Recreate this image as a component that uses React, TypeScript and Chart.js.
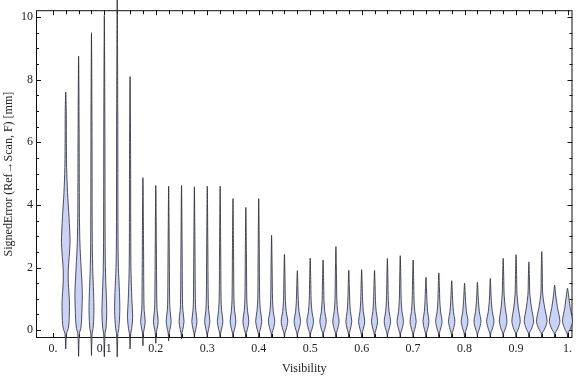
import React, { useEffect, useRef } from 'react';
import { Chart, registerables } from 'chart.js';
Chart.register(...registerables);

// Violin positions (Visibility)
const positions = [0.025, 0.05, 0.075, 0.1, 0.125, 0.15, 0.175, 0.2, 0.225, 0.25, 0.275, 0.3, 0.325, 0.35, 0.375, 0.4, 0.425, 0.45, 0.475, 0.5, 0.525, 0.55, 0.575, 0.6, 0.625, 0.65, 0.675, 0.7, 0.725, 0.75, 0.775, 0.8, 0.825, 0.85, 0.875, 0.9, 0.925, 0.95, 0.975, 1.0];
// Upper extent of each violin [mm]
const maxValues = [7.6, 8.75, 9.5, 10.05, 11.0, 8.1, 4.87, 4.62, 4.6, 4.62, 4.58, 4.6, 4.6, 4.2, 3.92, 4.2, 3.03, 2.42, 1.9, 2.3, 2.24, 2.67, 1.91, 1.93, 1.91, 2.29, 2.38, 2.24, 1.69, 1.83, 1.58, 1.5, 1.53, 1.65, 2.29, 2.41, 2.18, 2.51, 1.44, 1.34];
// Lower extent of each violin [mm]
const minValues = [-0.6, -0.84, -0.81, -0.85, -0.85, -0.6, -0.5, -0.42, -0.34, -0.27, -0.23, -0.22, -0.22, -0.22, -0.22, -0.22, -0.22, -0.22, -0.22, -0.22, -0.22, -0.22, -0.22, -0.22, -0.22, -0.22, -0.22, -0.22, -0.22, -0.22, -0.22, -0.22, -0.22, -0.22, -0.22, -0.22, -0.22, -0.22, -0.22, -0.22];
// Density bulb half-width (px) and bulb top (mm) for violins 7..40
const bulbWidths = [0, 0, 0, 0, 0, 0, 2.3, 2.4, 2.5, 2.5, 2.6, 2.6, 2.8, 2.9, 3.0, 3.1, 3.2, 3.3, 3.2, 3.3, 3.2, 3.2, 3.0, 3.1, 3.1, 3.2, 3.2, 3.1, 3.0, 3.2, 3.2, 3.4, 3.5, 3.7, 3.8, 4.2, 4.7, 5.3, 5.3, 5.0];
const bulbTops = [0, 0, 0, 0, 0, 0, 1.0, 1.0, 1.0, 1.0, 1.0, 1.0, 1.0, 1.0, 1.0, 1.0, 0.95, 0.95, 0.95, 0.95, 0.95, 0.95, 0.95, 0.95, 0.95, 0.95, 0.95, 0.95, 0.95, 0.95, 0.95, 0.95, 0.95, 0.95, 1.15, 1.15, 1.15, 1.15, 1.15, 1.15];
// Explicit density profiles for the first six violins: [value mm, half width px]
const violin1 = [[-0.1, 0.8], [0.05, 2.5], [0.3, 3.4], [0.9, 3.7], [1.5, 2.6], [1.9, 2.5], [2.8, 4.3], [3.6, 3.3], [4.4, 1.8], [5.2, 0.9], [6.2, 0.6]];
const violin2 = [[-0.1, 0.8], [0.05, 2.2], [0.35, 3.0], [1.2, 3.7], [2.0, 2.5], [2.8, 1.3], [3.8, 0.8]];
const violin3 = [[-0.1, 0.7], [0.05, 1.6], [0.5, 2.4], [1.0, 2.3], [1.8, 1.4], [2.8, 0.8]];
const violin4 = [[-0.1, 0.7], [0.05, 1.6], [0.5, 2.4], [1.0, 2.1], [1.8, 1.2], [2.8, 0.8]];
const violin5 = [[-0.1, 0.7], [0.05, 1.6], [0.6, 2.6], [1.2, 2.3], [2.0, 1.2], [3.0, 0.8]];
const violin6 = [[-0.1, 0.7], [0.05, 1.6], [0.4, 2.6], [1.0, 1.8], [1.8, 1.0], [2.8, 0.7]];
const customProfiles = [violin1, violin2, violin3, violin4, violin5, violin6];

const xTickValues = [0, 0.1, 0.2, 0.3, 0.4, 0.5, 0.6, 0.7, 0.8, 0.9, 1.0];
const xTickLabels = ['0.', '0.1', '0.2', '0.3', '0.4', '0.5', '0.6', '0.7', '0.8', '0.9', '1.'];
const xFrameTicks = [0, 0.025, 0.05, 0.075, 0.1, 0.125, 0.15, 0.175, 0.2, 0.225, 0.25, 0.275, 0.3, 0.325, 0.35, 0.375, 0.4, 0.425, 0.45, 0.475, 0.5, 0.525, 0.55, 0.575, 0.6, 0.625, 0.65, 0.675, 0.7, 0.725, 0.75, 0.775, 0.8, 0.825, 0.85, 0.875, 0.9, 0.925, 0.95, 0.975, 1.0];
const yTickValues = [0, 2, 4, 6, 8, 10];
const yTickLabels = ['0', '2', '4', '6', '8', '10'];
const yFrameTicks = [0, 0.5, 1, 1.5, 2, 2.5, 3, 3.5, 4, 4.5, 5, 5.5, 6, 6.5, 7, 7.5, 8, 8.5, 9, 9.5, 10];

const X_MIN = -0.0328;
const X_MAX = 1.0097;
const Y_MIN = -0.251;
const Y_MAX = 10.219;
const PLOT_W = 540;
const PX = (X_MAX - X_MIN) / PLOT_W;

function violinOutline(i: number) {
  const cx = positions[i];
  let body: number[][];
  if (i < customProfiles.length) {
    body = customProfiles[i];
  } else {
    const w = bulbWidths[i];
    const t = bulbTops[i];
    body = [[-0.09, 0.5], [0.02, w * 0.5], [0.28, w], [t * 0.62, w * 0.55], [t, 0.95]];
  }
  const lastY = body[body.length - 1][0];
  const hi = maxValues[i];
  const pts = [[minValues[i], 0], ...body, [lastY + (hi - lastY) * 0.5, 0.55], [hi, 0]];
  const right = pts.map(([y, h]) => ({ x: cx + h * PX, y }));
  const left = pts.slice().reverse().map(([y, h]) => ({ x: cx - h * PX, y }));
  return right.concat(left.slice(1));
}

const near = (arr: number[], v: number) => arr.some((a) => Math.abs(a - v) < 1e-6);

const framePlugin = {
  id: 'mmaFrame',
  beforeDatasetsDraw(chart: any) {
    const { ctx, chartArea: a, scales } = chart;
    const xs = scales.x;
    const ys = scales.y;
    ctx.save();
    ctx.strokeStyle = '#111';
    ctx.lineWidth = 1;
    ctx.strokeRect(a.left + 0.5, a.top + 0.5, a.right - a.left - 1, a.bottom - a.top - 1);
    ctx.beginPath();
    for (const v of xFrameTicks) {
      const p = Math.round(xs.getPixelForValue(v)) + 0.5;
      const len = near(xTickValues, v) ? 5 : 4;
      ctx.moveTo(p, a.bottom);
      ctx.lineTo(p, a.bottom - len);
      ctx.moveTo(p, a.top);
      ctx.lineTo(p, a.top + len);
    }
    for (const v of yFrameTicks) {
      const p = Math.round(ys.getPixelForValue(v)) + 0.5;
      const len = near(yTickValues, v) ? 5 : 3;
      ctx.moveTo(a.left, p);
      ctx.lineTo(a.left + len, p);
      ctx.moveTo(a.right, p);
      ctx.lineTo(a.right - len, p);
    }
    ctx.stroke();
    ctx.restore();
  },
};

export default function App() {
  const ref = useRef<HTMLCanvasElement | null>(null);
  useEffect(() => {
    if (!ref.current) return;
    const datasets = positions.map((_, i) => ({
      data: violinOutline(i),
      showLine: true,
      fill: 'shape',
      backgroundColor: '#cad2f5',
      borderColor: 'rgba(35,35,45,0.78)',
      borderWidth: 1,
      pointRadius: 0,
      tension: 0.3,
      clip: false,
    }));
    const font = { family: "'Liberation Serif', 'DejaVu Serif', serif", size: 12 };
    const chart = new Chart(ref.current, {
      type: 'scatter',
      data: { datasets: datasets as any },
      plugins: [framePlugin],
      options: {
        animation: false,
        responsive: false,
        devicePixelRatio: 1,
        layout: { padding: { top: 4, right: 0, left: 0, bottom: 0 } },
        plugins: { legend: { display: false }, tooltip: { enabled: false } },
        scales: {
          x: {
            type: 'linear',
            min: X_MIN,
            max: X_MAX,
            afterFit: (s: any) => { s.height = 39; },
            afterBuildTicks: (s: any) => { s.ticks = xTickValues.map((v) => ({ value: v })); },
            grid: { display: false, drawTicks: false },
            border: { display: false },
            ticks: {
              padding: 4,
              maxRotation: 0,
              autoSkip: false,
              color: '#222',
              font,
              callback: (v: any) => { const k = xTickValues.findIndex((t) => Math.abs(t - v) < 1e-6); return k >= 0 ? xTickLabels[k] : ''; },
            },
            title: { display: true, text: 'Visibility', color: '#222', font, padding: { top: 0, bottom: 1 } },
          },
          y: {
            type: 'linear',
            min: Y_MIN,
            max: Y_MAX,
            afterFit: (s: any) => { s.width = 36; },
            afterBuildTicks: (s: any) => { s.ticks = yTickValues.map((v) => ({ value: v })); },
            grid: { display: false, drawTicks: false },
            border: { display: false },
            ticks: {
              padding: 3,
              autoSkip: false,
              color: '#222',
              font,
              callback: (v: any) => { const k = yTickValues.findIndex((t) => Math.abs(t - v) < 1e-6); return k >= 0 ? yTickLabels[k] : ''; },
            },
            title: { display: true, text: 'SignedError (Ref→Scan, F) [mm]', color: '#222', font, padding: { top: 2, bottom: 0 } },
          },
        },
      } as any,
    });
    return () => chart.destroy();
  }, []);
  return (
    <div style={{ position: 'fixed', left: 0, top: 0, width: 576, height: 377, background: '#fff' }}>
      <canvas ref={ref} width={576} height={377} style={{ width: 576, height: 377, display: 'block' }} />
    </div>
  );
}
